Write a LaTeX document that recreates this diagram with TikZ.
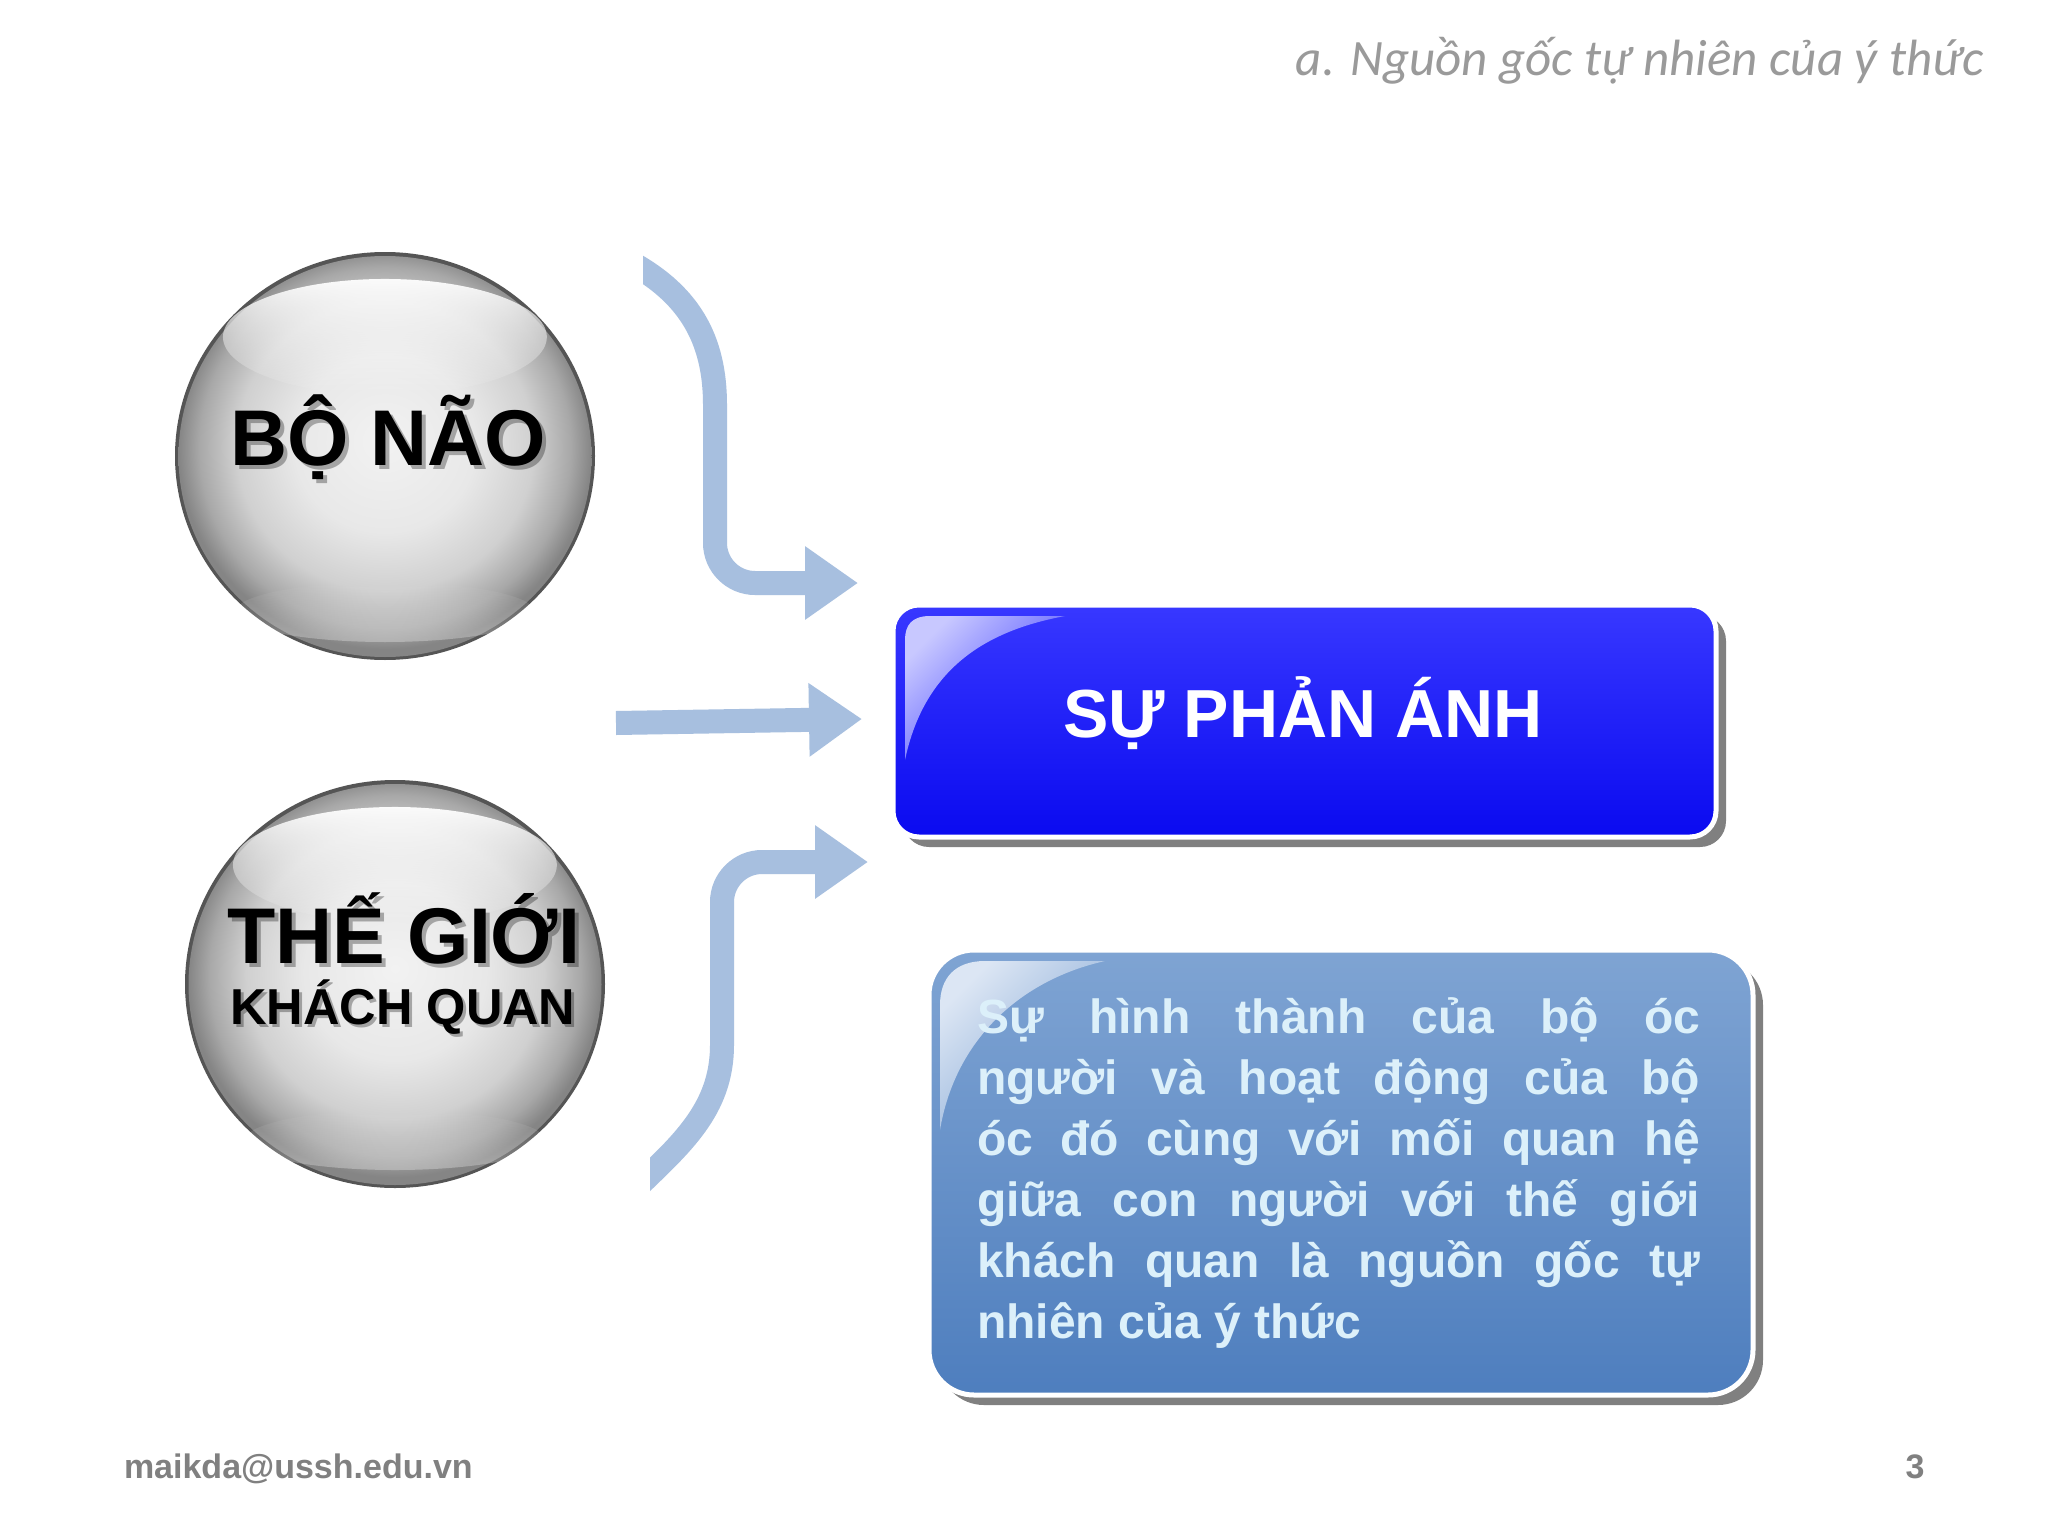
\documentclass[tikz,border=0pt]{standalone}
\usepackage{fontspec}
\setmainfont{Liberation Sans}
\newfontfamily\calib{Carlito}
\usetikzlibrary{arrows.meta,shapes.geometric,fadings}
\definecolor{arrowblue}{HTML}{A7BFDF}
\definecolor{rimgray}{HTML}{555555}
\definecolor{sphA}{HTML}{F2F2F2}
\definecolor{sphB}{HTML}{E8E8E8}
\definecolor{sphC}{HTML}{D0D0D0}
\definecolor{sphD}{HTML}{A8A8A8}
\definecolor{sphE}{HTML}{858585}
\definecolor{boxtop}{HTML}{3838FF}
\definecolor{boxbot}{HTML}{0A0AF0}
\definecolor{hlblue}{HTML}{C8C8FF}
\definecolor{desctop}{HTML}{7FA4D3}
\definecolor{descbot}{HTML}{4E7EBE}
\definecolor{hldesc}{HTML}{DCE6F4}
\definecolor{desctext}{HTML}{DCF0FA}
\definecolor{shadowgray}{HTML}{808080}
\definecolor{titlegray}{HTML}{9A9A9A}
\definecolor{footgray}{HTML}{808080}
\pgfdeclareradialshading{spherefill}{\pgfpoint{0bp}{2bp}}{color(0bp)=(sphA); color(11bp)=(sphB); color(18bp)=(sphC); color(22.5bp)=(sphD); color(25bp)=(sphE); color(50bp)=(sphE)}
\begin{document}
\begin{tikzpicture}[x=1pt,y=-1pt,
  every node/.style={inner sep=0pt, outer sep=0pt},
  ballrim/.style={ellipse, minimum width=420pt, minimum height=408pt, fill=rimgray},
  ballbody/.style={ellipse, minimum width=413pt, minimum height=401pt, shading=spherefill},
  balltext/.style={font=\bfseries\fontsize{#1}{#1}\selectfont, text=black, anchor=base},
  textshadow/.style={text=black, text opacity=0.3},
  bluebox/.style={rectangle, rounded corners=26pt, minimum width=823pt, minimum height=232pt, draw=white, line width=5pt, top color=boxtop, bottom color=boxbot},
  descbox/.style={rectangle, rounded corners=45pt, minimum width=824pt, minimum height=445pt, draw=white, line width=5pt, top color=desctop, bottom color=descbot},
  descline/.style={anchor=base west, font=\bfseries\fontsize{48}{61}\selectfont, text=desctext},
  flow/.style={draw=arrowblue, line width=24pt, -{Triangle[length=53pt,width=70pt]}},
  foot/.style={font=\bfseries\fontsize{34}{40}\selectfont, text=footgray}
]
\fill[white] (0,0) rectangle (2048,1536);
\useasboundingbox (0,0) rectangle (2048,1536);

% title
\node[anchor=base east, text=titlegray, font=\calib\itshape\fontsize{51}{60}\selectfont] (title) at (1984,76) {a. Nguồn gốc tự nhiên của ý thức};

% sphere 1
\node[ballrim] (brainrim) at (385,456) {};
\node[ballbody] (brainball) at (385,456.5) {};
\fill[white, path fading=south, opacity=0.95] (385,337) ellipse [x radius=162pt, y radius=58pt];
\fill[white, path fading=north, opacity=0.3] (385,612) ellipse [x radius=150pt, y radius=30pt];
\node[balltext=79, textshadow] (brainsh) at (392,469) {BỘ NÃO};
\node[balltext=79] (brain) at (388,465) {BỘ NÃO};

% sphere 2
\node[ballrim] (worldrim) at (395,984) {};
\node[ballbody] (worldball) at (395,984.5) {};
\fill[white, path fading=south, opacity=0.95] (395,865) ellipse [x radius=162pt, y radius=58pt];
\fill[white, path fading=north, opacity=0.3] (395,1140) ellipse [x radius=150pt, y radius=30pt];
\node[balltext=79, textshadow] (world1sh) at (408,967) {THẾ GIỚI};
\node[balltext=79] (world1) at (404,963) {THẾ GIỚI};
\node[balltext=50.5, textshadow] (world2sh) at (406,1027) {KHÁCH QUAN};
\node[balltext=50.5] (world2) at (403,1024) {KHÁCH QUAN};

% arrows
\coordinate (a1s) at (622,258);
\coordinate (a1e) at (858,583);
\coordinate (a2s) at (616,723);
\coordinate (a2e) at (862,719);
\coordinate (a3s) at (636,1188);
\coordinate (a3e) at (868,862);
\begin{scope}
\clip (643,0) rectangle (1000,1536);
\draw[flow] (a1s) .. controls (690,292) and (715,340) .. (715,405) -- (715,543) .. controls (715,565) and (733,583) .. (755,583) -- (a1e);
\end{scope}
\draw[flow] (a2s) -- (a2e);
\begin{scope}
\clip (650,0) rectangle (1000,1536);
\draw[flow] (a3s) .. controls (680,1145) and (722,1110) .. (722,1045) -- (722,902) .. controls (722,880) and (740,862) .. (762,862) -- (a3e);
\end{scope}

% blue box
\fill[shadowgray, rounded corners=26pt] (903,615) rectangle (1726,847);
\node[bluebox] (refl) at (1304.5,721) {};
\shade[top color=hlblue, bottom color=boxtop, shading angle=45] (905,760) -- (905,640) .. controls (905,625) and (912,616) .. (930,616) -- (1065,616) .. controls (990,630) and (925,665) .. (905,760) -- cycle;
\node[font=\bfseries\fontsize{68}{80}\selectfont, text=white, anchor=base] (refltext) at (1303,737) {SỰ PHẢN ÁNH};

% description box
\fill[shadowgray, rounded corners=45pt] (939,960) rectangle (1763,1405);
\node[descbox] (desc) at (1341,1172.5) {};
\shade[top color=hldesc, bottom color=desctop, shading angle=45] (940,1130) -- (940,1005) .. controls (940,978) and (955,961) .. (985,961) -- (1105,961) .. controls (1020,980) and (955,1040) .. (940,1130) -- cycle;
\node[descline] (d1) at (977,1033) {\makebox[723pt][s]{Sự hình thành của bộ óc}};
\node[descline] (d2) at (977,1094) {\makebox[723pt][s]{người và hoạt động của bộ}};
\node[descline] (d3) at (977,1155) {\makebox[723pt][s]{óc đó cùng với mối quan hệ}};
\node[descline] (d4) at (977,1216) {\makebox[723pt][s]{giữa con người với thế giới}};
\node[descline] (d5) at (977,1277) {\makebox[723pt][s]{khách quan là nguồn gốc tự}};
\node[descline] (d6) at (977,1338) {nhiên của ý thức};

% footer
\node[foot, anchor=base west] (mail) at (124,1478) {maikda@ussh.edu.vn};
\node[foot, anchor=base] (pagenum) at (1915,1478) {3};
\end{tikzpicture}
\end{document}
